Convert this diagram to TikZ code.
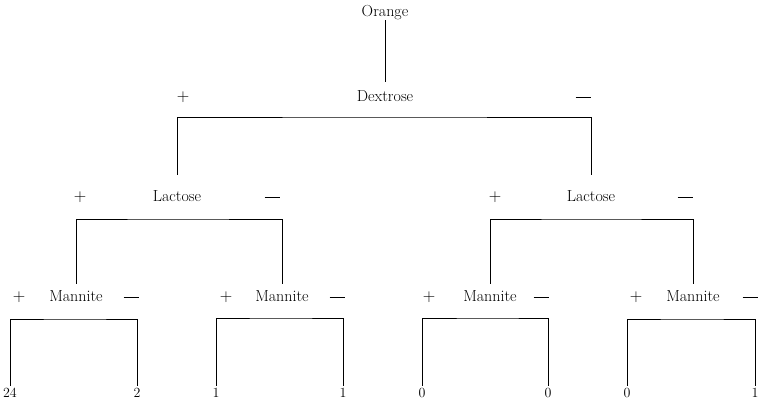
\documentclass[tikz,border=0pt]{standalone}
\begin{document}
\begin{tikzpicture}[x=1pt,y=-1pt,
  lab/.style={inner sep=0pt, text height=11pt, text depth=3pt, font=\fontsize{16}{18}\selectfont},
  num/.style={inner sep=0pt, text height=10pt, text depth=0pt, font=\fontsize{14}{16}\selectfont},
  sgn/.style={inner sep=0pt, font=\fontsize{18}{20}\selectfont},
  conn/.style={line width=0.8pt}]
\useasboundingbox (0,0) rectangle (765,407);
\newcommand{\mns}{\rule[-0.35pt]{15pt}{0.7pt}}
% level 0
\node[lab] (orange) at (385,12) {Orange};
% level 1
\node[lab] (dex) at (385,97) {Dextrose};
\node[sgn] (dexp) at (183,97) {$+$};
\node[sgn] (dexm) at (583,97) {\mns};
% level 2
\node[lab] (lacL) at (177,197) {Lactose};
\node[sgn] (lacLp) at (80,197) {$+$};
\node[sgn] (lacLm) at (272,197) {\mns};
\node[lab] (lacR) at (591,197) {Lactose};
\node[sgn] (lacRp) at (495,197) {$+$};
\node[sgn] (lacRm) at (685,197) {\mns};
% level 3
\node[lab] (manA) at (76,297) {Mannite};
\node[sgn] (manAp) at (19,297) {$+$};
\node[sgn] (manAm) at (131,297) {\mns};
\node[lab] (manB) at (282,297) {Mannite};
\node[sgn] (manBp) at (226,297) {$+$};
\node[sgn] (manBm) at (337,297) {\mns};
\node[lab] (manC) at (490,297) {Mannite};
\node[sgn] (manCp) at (429,297) {$+$};
\node[sgn] (manCm) at (541,297) {\mns};
\node[lab] (manD) at (693,297) {Mannite};
\node[sgn] (manDp) at (636,297) {$+$};
\node[sgn] (manDm) at (750,297) {\mns};
% level 4
\node[num] (nA1) at (10,392) {24};
\node[num] (nA2) at (137,392) {2};
\node[num] (nB1) at (216,392) {1};
\node[num] (nB2) at (343,392) {1};
\node[num] (nC1) at (422,392) {0};
\node[num] (nC2) at (548,392) {0};
\node[num] (nD1) at (627,392) {0};
\node[num] (nD2) at (755,392) {1};
% bar coordinates
\coordinate (dbar) at ([yshift=-20pt]dex.center);
\coordinate (lLbar) at ([yshift=-22pt]lacL.center);
\coordinate (lRbar) at ([yshift=-22pt]lacR.center);
\coordinate (mAbar) at ([yshift=-22pt]manA.center);
\coordinate (mBbar) at ([yshift=-21pt]manB.center);
\coordinate (mCbar) at ([yshift=-21pt]manC.center);
\coordinate (mDbar) at ([yshift=-22pt]manD.center);
% connectors
\draw[conn, shorten <=1pt, shorten >=8pt] (orange) -- (dex);
\draw[conn] ([yshift=15pt]lacL.north) |- (dbar) -| ([yshift=15pt]lacR.north);
\draw[conn] ([yshift=6pt]manA.north) |- (lLbar) -| ([yshift=6pt]manB.north);
\draw[conn] ([yshift=6pt]manC.north) |- (lRbar) -| ([yshift=6pt]manD.north);
\draw[conn] ([yshift=1pt]nA1.north) |- (mAbar) -| ([yshift=1pt]nA2.north);
\draw[conn] ([yshift=1pt]nB1.north) |- (mBbar) -| ([yshift=1pt]nB2.north);
\draw[conn] ([yshift=1pt]nC1.north) |- (mCbar) -| ([yshift=1pt]nC2.north);
\draw[conn] ([yshift=1pt]nD1.north) |- (mDbar) -| ([yshift=1pt]nD2.north);
\end{tikzpicture}
\end{document}
